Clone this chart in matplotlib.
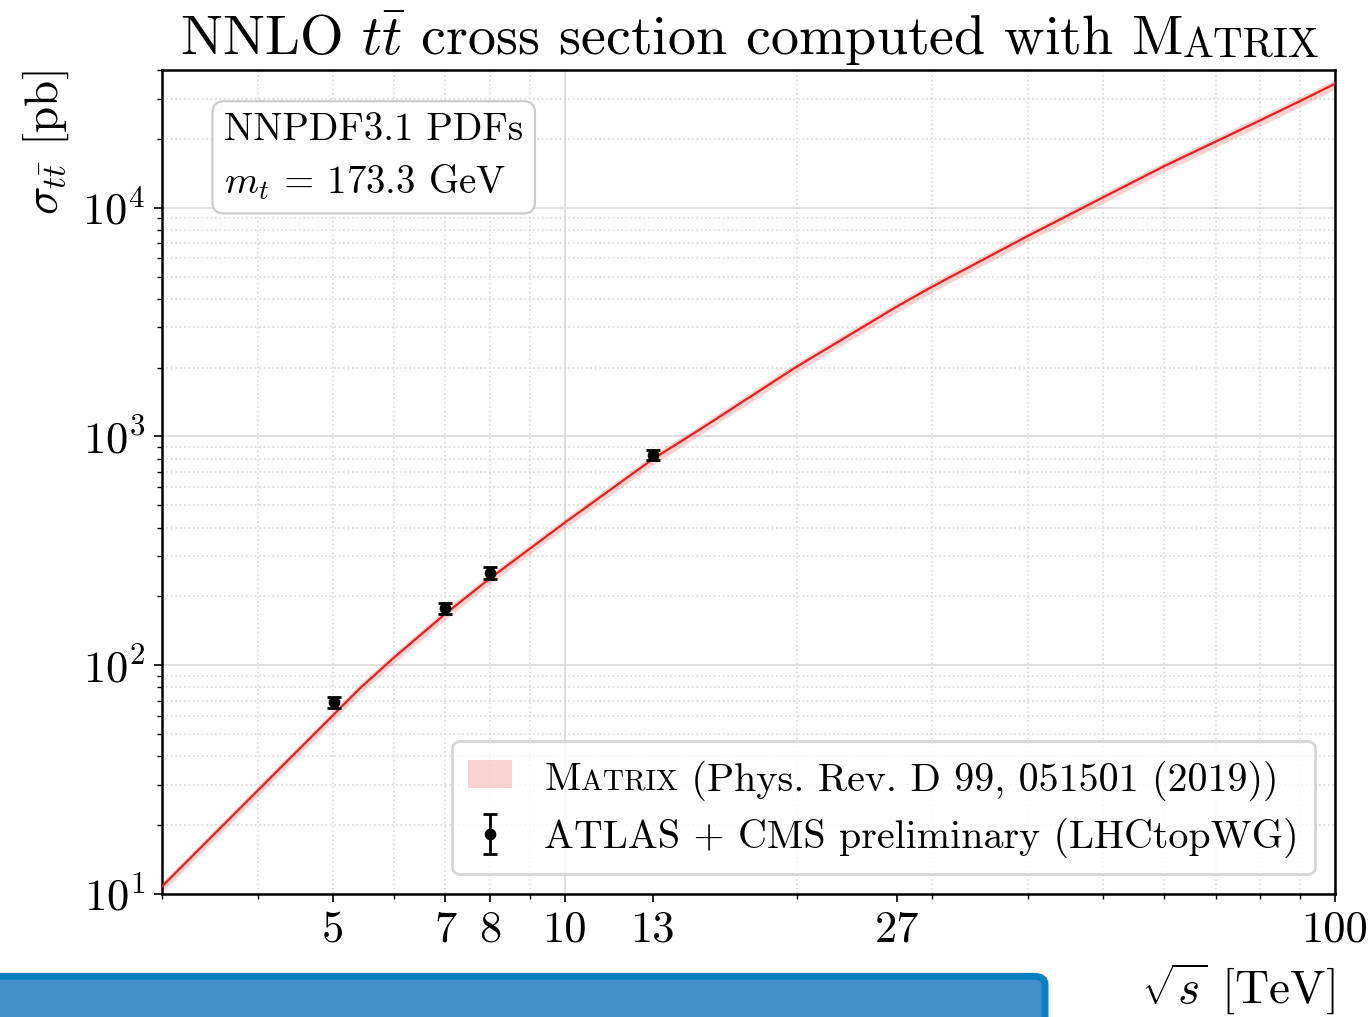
import numpy as np
import matplotlib
matplotlib.use('Agg')
import matplotlib.pyplot as plt
from matplotlib.patches import FancyBboxPatch
from matplotlib.ticker import NullFormatter

plt.rcParams.update({
    'font.family': 'serif',
    'font.serif': ['cmr10'],
    'mathtext.fontset': 'cm',
    'axes.formatter.use_mathtext': True,
    'axes.unicode_minus': False,
})

# MATRIX NNLO prediction
sqrt_s = [3, 4, 5, 5.42, 6, 7, 8, 10, 13, 15, 20, 27, 30, 40, 50, 60, 70, 80, 90, 100]
sigma = [10.8, 28.5, 60.4, 79.3, 108, 168, 240, 420, 795, 1077, 2018, 3700, 4520,
         7550, 11100, 15190, 19450, 24100, 29200, 34800]
sigma_up = [11.3, 29.8, 63.1, 82.9, 112.9, 175.6, 250.8, 438.9, 830.8, 1125.5, 2108.8, 3866.5,
            4723.4, 7890, 11600, 15874, 20325, 25185, 30514, 36366]
sigma_down = [10.2, 26.9, 57.1, 74.9, 102.1, 158.8, 226.8, 396.9, 751.3, 1017.8, 1907.0, 3496.5,
              4271.4, 7135, 10490, 14355, 18380, 22775, 27594, 32886]

# ATLAS + CMS measurements
meas_s = [5.02, 7, 8, 13]
meas_sigma = [69, 178, 254, 832]
meas_err = [4, 10, 15, 42]

xtick_vals = [5, 7, 8, 10, 13, 27, 100]
xtick_minor = [3, 4, 6, 9, 20, 30, 40, 50, 60, 70, 80, 90]
xgrid_major = [10, 100]
xgrid_minor = [3, 4, 5, 6, 7, 8, 9, 20, 30, 40, 50, 60, 70, 80, 90]

red = '#e3201f'

fig = plt.figure(figsize=(6.86, 5.085), dpi=200)
ax = fig.add_axes([0.1181, 0.1209, 0.8549, 0.8103])
ax.set_xscale('log')
ax.set_yscale('log')
ax.set_xlim(3, 100)
ax.set_ylim(10, 4e4)

band = ax.fill_between(sqrt_s, sigma_down, sigma_up, color=red, alpha=0.2, lw=0, zorder=2)
ax.plot(sqrt_s, sigma, color=red, lw=0.8, zorder=3)
eb = ax.errorbar(meas_s, meas_sigma, yerr=meas_err, fmt='o', color='black', ms=3.2,
                 capsize=2.6, elinewidth=1.0, capthick=1.0, zorder=4)

# grid
ax.yaxis.grid(True, which='major', color='0.85', lw=0.6, zorder=0)
ax.yaxis.grid(True, which='minor', color='0.85', lw=0.6, ls=':', zorder=0)
for v in xgrid_major:
    ax.axvline(v, color='0.85', lw=0.6, zorder=0)
for v in xgrid_minor:
    ax.axvline(v, color='0.85', lw=0.6, ls=':', zorder=0)

ax.set_xticks(xtick_vals)
ax.set_xticklabels([str(v) for v in xtick_vals])
ax.set_xticks(xtick_minor, minor=True)
ax.xaxis.set_minor_formatter(NullFormatter())
ax.tick_params(which='major', length=3, width=0.6, direction='out', labelsize=16, pad=3)
ax.tick_params(which='minor', length=1.8, width=0.5, direction='out')
for sp in ax.spines.values():
    sp.set_linewidth(0.9)

ax.set_xlabel(r'$\sqrt{s}$ [TeV]', loc='right', fontsize=17)
ax.set_ylabel(r'$\sigma_{t\bar{t}}$ [pb]', loc='top', fontsize=17)

ax.text(0.0529, 0.9487, 'NNPDF3.1 PDFs\n$m_t$ = 173.3 GeV', transform=ax.transAxes,
        ha='left', va='top', fontsize=14, linespacing=1.455,
        bbox=dict(boxstyle='round,pad=0.3', fc='white', ec='0.8', lw=0.8), zorder=6)

leg = ax.legend([band, eb], ['Matrix (Phys. Rev. D 99, 051501 (2019))',
                             'ATLAS + CMS preliminary (LHCtopWG)'],
                loc='lower right', fontsize=14.4, handlelength=1.1, handletextpad=0.8,
                borderaxespad=0.5, edgecolor='0.8', fancybox=True)
leg.get_texts()[0].set_alpha(0)


def chain(first, parts, size_prev):
    # place text pieces one after another on the same baseline
    prev = first
    for txt, fs in parts:
        a = ax.annotate(txt, xy=(1, 0), xycoords=prev, xytext=(0, 0.1944 * size_prev),
                        textcoords='offset points', fontsize=fs, ha='left', va='baseline',
                        zorder=10, annotation_clip=False)
        prev = a
        size_prev = fs


# small caps "Matrix" in the legend
lt = leg.get_texts()[0]
m0 = ax.annotate('M', xy=(0, 0), xycoords=lt, xytext=(0, 0.1944 * 14.4), textcoords='offset points',
                 fontsize=14.4, ha='left', va='baseline', zorder=10, annotation_clip=False)
chain(m0, [('ATRIX', 10.5), (' (Phys. Rev. D 99, 051501 (2019))', 14.4)], 14.4)

# title with small caps
t0 = fig.text(0.1312, 0.9459, r'NNLO $t\bar{t}$ cross section computed with M', fontsize=20.2,
              ha='left', va='baseline')
chain(t0, [('ATRIX', 14.8)], 20.2)

# blue brush stroke at the bottom
fig.patches.append(FancyBboxPatch((-0.01, -0.03), 0.7717, 0.0700,
                                  boxstyle='round,pad=0,rounding_size=0.008',
                                  transform=fig.transFigure, fc='#4690c9', ec='#0a7fc1',
                                  lw=2.5, zorder=20))

fig.savefig('out.png', dpi=200)
